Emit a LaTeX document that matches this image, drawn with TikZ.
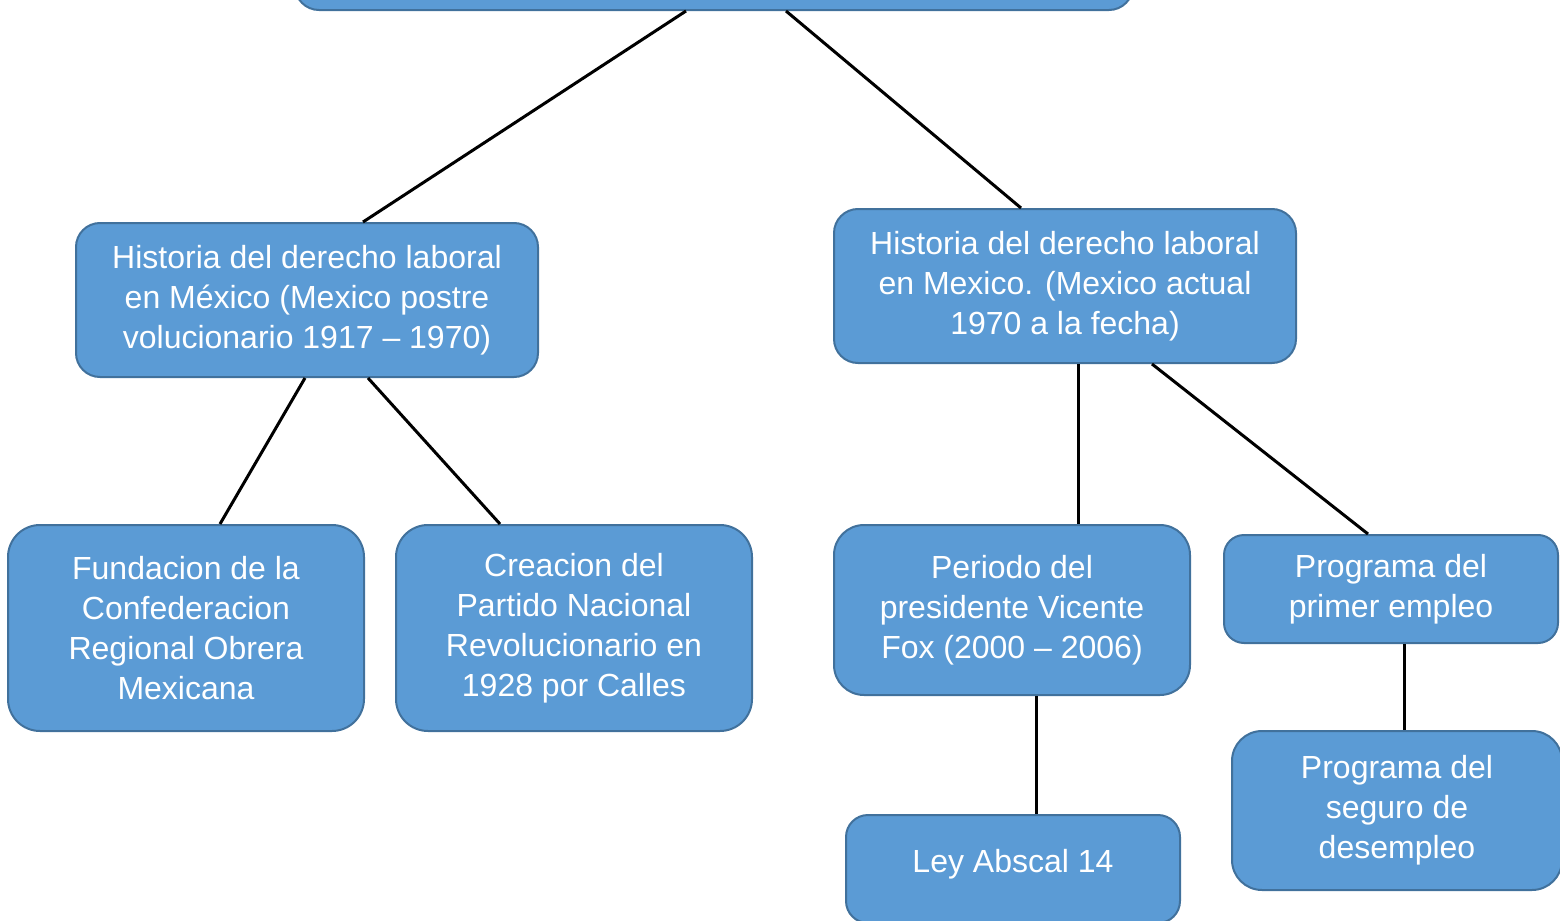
\documentclass[tikz,border=0pt]{standalone}
\usepackage{fontspec}
\setmainfont{Liberation Sans}
\usetikzlibrary{positioning}
\definecolor{boxfill}{HTML}{5B9BD5}
\definecolor{boxline}{HTML}{41719C}

\begin{document}
\begin{tikzpicture}[x=0.5pt,y=-0.5pt,
  caja/.style={draw=boxline,fill=boxfill,line width=1pt,rounded corners=12pt,
    text=white,align=center,inner sep=0pt,
    font=\fontsize{16}{20}\selectfont},
  linea/.style={line width=1.5pt,black}]
\useasboundingbox (0,0) rectangle (1560,921);
\clip (0,0) rectangle (1560,921);

\node[caja,minimum width=419pt,minimum height=35pt] (top) at (714,-25) {};
\node[caja,minimum width=231pt,minimum height=77pt] (lmid) at (307,300)
  {Historia del derecho laboral\\en México (Mexico postre\\volucionario 1917 -- 1970)};
\node[caja,minimum width=231pt,minimum height=77pt] (rmid) at (1065,286)
  {Historia del derecho laboral\\en Mexico. (Mexico actual\\1970 a la fecha)};
\node[caja,minimum width=178pt,minimum height=103pt,rounded corners=16pt] (croc) at (186,628)
  {Fundacion de la\\Confederacion\\Regional Obrera\\Mexicana};
\node[caja,minimum width=178pt,minimum height=103pt,rounded corners=16pt] (pnr) at (574,628)
  {Creacion del\\Partido Nacional\\Revolucionario en\\1928 por Calles};
\node[caja,minimum width=178pt,minimum height=85pt,rounded corners=15pt] (fox) at (1012,610)
  {Periodo del\\presidente Vicente\\Fox (2000 -- 2006)};
\node[caja,minimum width=167pt,minimum height=54pt,rounded corners=10pt] (empleo) at (1391,589)
  {Programa del\\primer empleo};
\node[caja,minimum width=165pt,minimum height=79.5pt,rounded corners=15pt] (seguro) at (1397,810.5)
  {Programa del\\seguro de\\desempleo};
\node[caja,minimum width=167pt,minimum height=54pt,rounded corners=11pt] (ley) at (1013,869)
  {\raisebox{8pt}{Ley Abscal 14}};

% conectores
\draw[linea] ([xshift=-14pt]top.south) -- ([xshift=28pt]lmid.north);
\draw[linea] ([xshift=36pt]top.south) -- ([xshift=-22pt]rmid.north);
\draw[linea] ([xshift=-1pt]lmid.south) -- ([xshift=17pt]croc.north);
\draw[linea] ([xshift=30.5pt]lmid.south) -- ([xshift=-37pt]pnr.north);
\draw[linea] ([xshift=6.5pt]rmid.south) -- ([xshift=33pt]fox.north);
\draw[linea] ([xshift=43.5pt]rmid.south) -- ([xshift=-11.5pt]empleo.north);
\draw[linea] ([xshift=12pt]fox.south) -- ([xshift=11.5pt]ley.north);
\draw[linea] ([xshift=6.5pt]empleo.south) -- ([xshift=3.5pt]seguro.north);
\end{tikzpicture}
\end{document}
